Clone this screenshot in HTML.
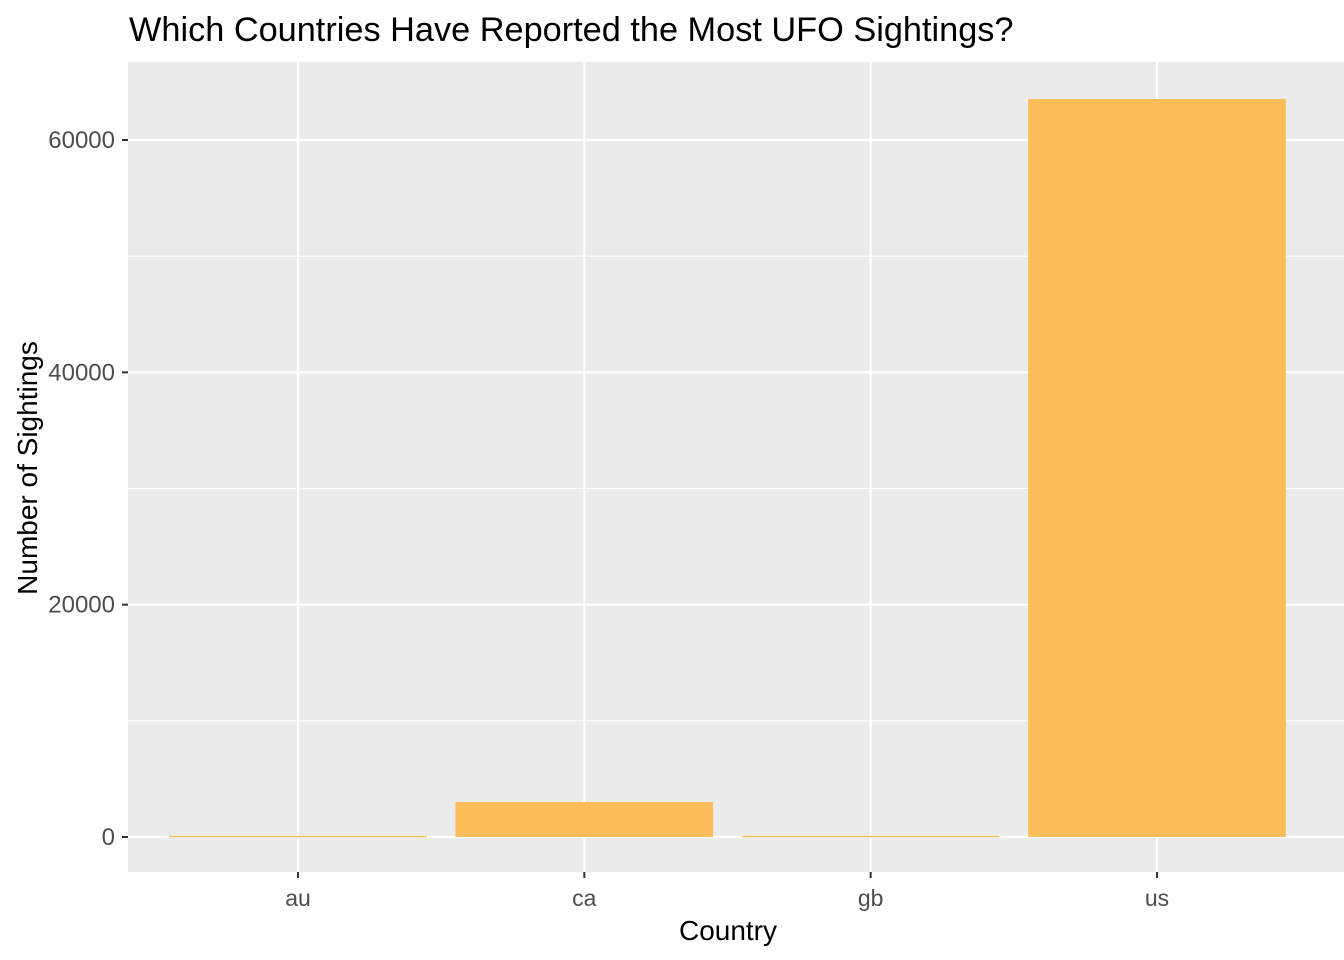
<!DOCTYPE html>
<html><head><meta charset="utf-8"><style>
body{margin:0;background:#fff;}
svg{display:block;font-family:"Liberation Sans",Arial,sans-serif;}
</style></head><body>
<svg id="chart" width="1344" height="960">
<rect x="0" y="0" width="1344" height="960" fill="#fff"/>
<text x="129" y="41" font-size="34.3" fill="#000">Which Countries Have Reported the Most UFO Sightings?</text>
<rect x="128" y="62" width="1216" height="810" fill="#ebebeb"/>
<g id="grid"></g><g id="bars"></g><g id="axes"></g>
<text x="728" y="940" font-size="28" text-anchor="middle" fill="#000">Country</text>
<text transform="translate(37,468) rotate(-90)" font-size="28" text-anchor="middle" fill="#000">Number of Sightings</text>
</svg>
<script>
const categories=["au","ca","gb","us"];
const sightings=[100,3010,100,63530];
const yTicks=[0,20000,40000,60000];
const NS="http://www.w3.org/2000/svg";
const y0=837, pxPer=697/60000;
function ys(v){return y0-v*pxPer;}
function xs(i){return 298+286.33*i;}
const L=128,R=1344,T=62,B=872;
function mk(tag,attrs,parent){const e=document.createElementNS(NS,tag);for(const k in attrs)e.setAttribute(k,attrs[k]);document.getElementById(parent).appendChild(e);return e;}
for(let i=0;i<yTicks.length;i++){
  const m=yTicks[i]+10000; const y=ys(m);
  if(y>T){const l=mk("line",{x1:L,x2:R,y1:y,y2:y,stroke:"#fff","stroke-width":1.1},"grid");
  
  }
}
for(let i=0;i<yTicks.length;i++){
  const y=ys(yTicks[i]);
  const l=mk("line",{x1:L,x2:R,y1:y,y2:y,stroke:"#fff","stroke-width":2.2},"grid");
  
  
  const t=mk("line",{x1:L-6,x2:L,y1:y,y2:y,stroke:"#333","stroke-width":2},"axes");
  
  
  const tx=mk("text",{x:L-13,y:y+8,"font-size":24,"text-anchor":"end",fill:"#4d4d4d"},"axes");
  tx.textContent=yTicks[i];
  
  
}
for(let i=0;i<categories.length;i++){
  const x=xs(i);
  const l=mk("line",{x1:x,x2:x,y1:T,y2:B,stroke:"#fff","stroke-width":2.2},"grid");
  
  
  const w=257.7, top=ys(sightings[i]);
  const b=mk("rect",{x:x-w/2,y:top,width:w,height:Math.max(y0-top,1.5),fill:"#fdbd5b"},"bars");
  
  
  const t=mk("line",{x1:x,x2:x,y1:B,y2:B+6,stroke:"#333","stroke-width":2},"axes");
  
  
  const tx=mk("text",{x:x,y:906,"font-size":23,"text-anchor":"middle",fill:"#4d4d4d"},"axes");
  tx.textContent=categories[i];
  
  
}
</script>
</body></html>
